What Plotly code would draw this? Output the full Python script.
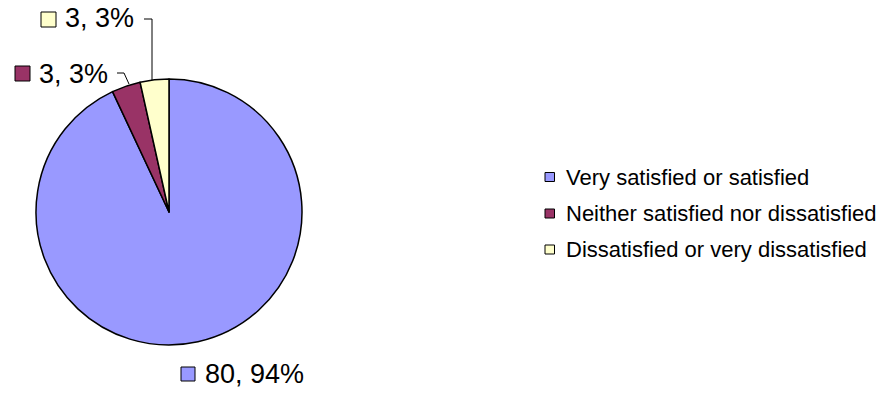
import plotly.graph_objects as go

# ---- data ----
categories = ["Very satisfied or satisfied",
              "Neither satisfied nor dissatisfied",
              "Dissatisfied or very dissatisfied"]
counts = [80, 3, 3]
percent_labels = [94, 3, 3]
colors = ["#9999FF", "#993366", "#FFFFCC"]

W, H = 893, 394


def px(x):
    return x / W


def py(y):
    return 1 - y / H


fig = go.Figure()

# pie: centre ~ (169, 212) px, radius ~133 px
cx, cy, r = 169, 212, 133
fig.add_trace(go.Pie(
    labels=categories,
    values=counts,
    sort=False,
    direction="clockwise",
    rotation=0,
    marker=dict(colors=colors, line=dict(color="black", width=1.5)),
    textinfo="none",
    showlegend=False,
    domain=dict(x=[px(cx - r), px(cx + r)], y=[py(cy + r), py(cy - r)]),
))

shapes = []
annotations = []

# data labels (square + "count, pct%")
label_pos = [
    # (square x0, square y0, size, text x, text centre y)
    (181, 367, 14, 205, 374),
    (15, 66, 15, 39, 74),
    (41, 12, 15, 65, 18),
]
for i, (sx, sy, s, tx, ty) in enumerate(label_pos):
    shapes.append(dict(type="rect", xref="paper", yref="paper",
                       x0=px(sx), x1=px(sx + s), y0=py(sy + s), y1=py(sy),
                       fillcolor=colors[i], line=dict(color="black", width=1)))
    annotations.append(dict(xref="paper", yref="paper", x=px(tx - 2), y=py(ty),
                            xanchor="left", yanchor="middle", showarrow=False,
                            text=f"{counts[i]}, {percent_labels[i]}%",
                            font=dict(family="Liberation Sans, Arial", size=27, color="black")))

# leader lines
shapes.append(dict(type="path", xref="paper", yref="paper",
                   path=f"M {px(144)},{py(19)} L {px(152)},{py(19)} L {px(152)},{py(80)}",
                   line=dict(color="black", width=1)))
shapes.append(dict(type="path", xref="paper", yref="paper",
                   path=f"M {px(117)},{py(73)} L {px(124)},{py(73)} L {px(129)},{py(84)}",
                   line=dict(color="black", width=1)))

# legend (manual)
legend_y = [177, 213.5, 249.5]
for i, ly in enumerate(legend_y):
    shapes.append(dict(type="rect", xref="paper", yref="paper",
                       x0=px(545), x1=px(554.5), y0=py(ly + 4.5), y1=py(ly - 4.5),
                       fillcolor=colors[i], line=dict(color="black", width=1)))
    annotations.append(dict(xref="paper", yref="paper", x=px(564), y=py(ly),
                            xanchor="left", yanchor="middle", showarrow=False,
                            text=categories[i],
                            font=dict(family="Liberation Sans, Arial", size=22, color="black")))

fig.update_layout(
    width=W, height=H,
    margin=dict(l=0, r=0, t=0, b=0),
    paper_bgcolor="white", plot_bgcolor="white",
    shapes=shapes, annotations=annotations,
    showlegend=False,
)

fig.write_html("out.html")
